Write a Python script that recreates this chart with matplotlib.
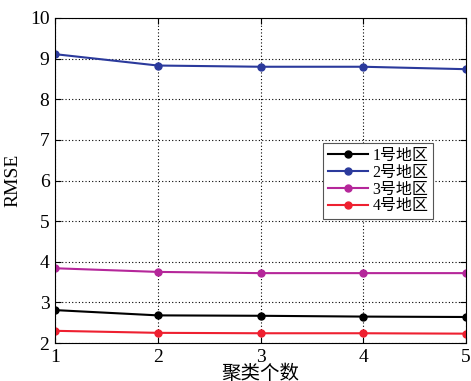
import matplotlib.pyplot as plt

plt.rcParams['font.family'] = ['Liberation Serif', 'Noto Sans CJK SC']

# Data
k = [1, 2, 3, 4, 5]
region1 = [2.81, 2.68, 2.67, 2.65, 2.64]
region2 = [9.11, 8.83, 8.80, 8.80, 8.74]
region3 = [3.84, 3.75, 3.72, 3.72, 3.72]
region4 = [2.30, 2.25, 2.24, 2.24, 2.23]
labels = ['1号地区', '2号地区', '3号地区', '4号地区']
colors = ['#000000', '#2b3a9c', '#b5279a', '#ee2030']

fig = plt.figure(figsize=(4.71, 3.81), dpi=100)
ax = fig.add_axes([55 / 471, 1 - 343 / 381, 411 / 471, 325 / 381])

for ys, lab, c in zip([region1, region2, region3, region4], labels, colors):
    ax.plot(k, ys, color=c, marker='o', markersize=5, linewidth=1.5, label=lab)

ax.set_xlim(1, 5)
ax.set_ylim(2, 10)
ax.set_xticks(k)
ax.set_yticks(range(2, 11))
ax.tick_params(direction='in', top=True, right=True, labelsize=14, length=4, pad=4)
ax.grid(True, linestyle=(0, (1, 2)), color='black', linewidth=0.8)
for s in ax.spines.values():
    s.set_linewidth(0.8)

ax.set_xlabel('聚类个数', fontsize=14, labelpad=-1)
ax.set_ylabel('RMSE', fontsize=14, labelpad=6)

leg = ax.legend(loc='center', bbox_to_anchor=(0.786, 0.498), fontsize=11.5,
                fancybox=False, framealpha=1, edgecolor='#555555',
                handlelength=2.5, borderpad=0.3, labelspacing=0.05, handletextpad=0.3)
leg.get_frame().set_linewidth(0.8)

fig.savefig('out.png', dpi=100)
